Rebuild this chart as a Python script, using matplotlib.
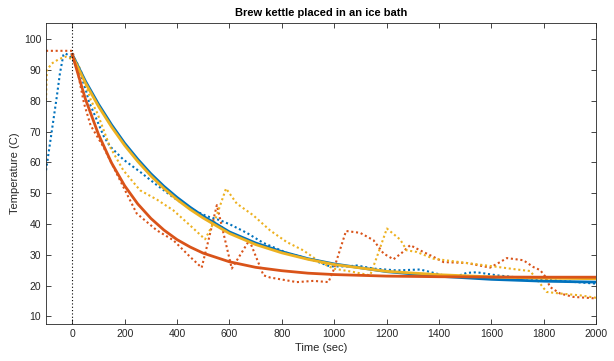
import numpy as np
import matplotlib
matplotlib.use("Agg")
import matplotlib.pyplot as plt

plt.rcParams['font.family'] = ['Liberation Sans', 'DejaVu Sans']

# smooth curves
fit_t = [0, 50, 100, 150, 200, 250, 300, 350, 400, 450, 500, 600, 700, 800,
         900, 1000, 1200, 1400, 1600, 1800, 2000]
fit_blue = [95.0, 86.4, 78.9, 72.2, 66.2, 61.0, 56.3, 52.2, 48.6, 45.4, 42.5,
            37.4, 33.8, 31.0, 28.7, 27.0, 24.5, 23.0, 22.0, 21.4, 21.1]
fit_red = [95.0, 80.6, 69.1, 59.8, 52.4, 46.5, 41.8, 38.0, 34.9, 32.5, 30.5,
           27.7, 25.9, 24.8, 24.0, 23.55, 23.05, 22.85, 22.75, 22.7, 22.7]
fit_yellow = [94.6, 85.8, 78.2, 71.5, 65.5, 60.3, 55.6, 51.5, 47.9, 44.7, 41.9,
              36.9, 33.3, 30.6, 28.5, 26.8, 24.6, 23.5, 22.8, 22.4, 22.2]

# measured probes
blue_t = [-100, -85, -72, -59, -47, -34, -27, -10, 0, 20, 39, 52, 64, 80, 100,
          120, 144, 195, 259, 323, 386, 450, 514, 564, 603, 666, 730, 819, 921,
          984, 1048, 1086, 1150, 1239, 1328, 1417, 1468, 1506, 1544, 1621, 1735,
          1862, 2000]
blue_T = [57.4, 66.1, 73.7, 81.3, 88.9, 94.8, 95.4, 94.5, 93.4, 91.0, 86.7, 83.4,
          79.6, 76.5, 72.5, 68.5, 65.2, 60.9, 56.9, 52.6, 48.6, 45.0, 42.5, 41.2,
          39.8, 37.1, 33.8, 30.6, 28.2, 26.2, 26.2, 26.5, 25.5, 24.9, 25.2, 23.3,
          23.0, 24.1, 24.3, 23.3, 22.3, 21.5, 20.6]

red_t = [-100, 0, 4, 20, 32, 45, 70, 119, 157, 195, 246, 323, 386, 450, 494, 520,
         552, 609, 676, 730, 755, 857, 921, 978, 997, 1045, 1099, 1150, 1188,
         1226, 1258, 1290, 1328, 1379, 1417, 1506, 1595, 1633, 1659, 1722, 1760,
         1786, 1805, 1824, 1862, 1913, 2000]
red_T = [96.2, 96.2, 95.0, 89.9, 84.5, 79.1, 72.0, 65.0, 58.5, 52.0, 43.4, 37.9,
         34.7, 29.3, 25.8, 34.7, 46.1, 25.5, 34.7, 23.3, 22.6, 21.1, 21.5, 21.1,
         24.9, 37.7, 37.1, 34.7, 30.4, 28.5, 30.6, 33.1, 31.4, 29.3, 27.6, 27.3,
         25.8, 27.6, 28.9, 28.2, 26.0, 25.0, 23.0, 19.5, 17.4, 16.3, 15.8]

yellow_t = [-100, -97, -78, -53, -27, 0, 13, 32, 52, 71, 96, 144, 195, 259, 323,
            386, 450, 507, 545, 587, 628, 691, 755, 819, 882, 946, 997, 1073,
            1137, 1163, 1201, 1252, 1277, 1315, 1379, 1506, 1608, 1697, 1748,
            1786, 1811, 1862, 1939, 2000]
yellow_T = [80.2, 89.9, 92.1, 93.4, 94.3, 93.5, 93.2, 90.0, 85.0, 80.2, 75.9,
            65.0, 57.4, 50.9, 47.9, 44.4, 39.5, 35.0, 41.2, 51.5, 46.6, 42.8,
            37.9, 34.1, 31.4, 27.6, 25.5, 24.4, 23.3, 29.3, 38.5, 34.9, 31.4,
            30.9, 28.7, 27.3, 26.2, 25.2, 24.7, 20.6, 17.9, 17.4, 16.8, 16.0]

c_blue = '#0072BD'
c_red = '#D95319'
c_yellow = '#EDB120'
axcol = '#262626'

fig = plt.figure(figsize=(6.14, 3.61), dpi=100)
ax = fig.add_axes([0.075, 0.1025, 0.896, 0.8335])

dots = (0, (1, 1.3))
ax.plot(blue_t, blue_T, color=c_blue, lw=1.5, ls=dots)
ax.plot(red_t, red_T, color=c_red, lw=1.5, ls=dots)
ax.plot(yellow_t, yellow_T, color=c_yellow, lw=1.5, ls=dots)
ax.plot(fit_t, fit_blue, color=c_blue, lw=2)
ax.plot(fit_t, fit_yellow, color=c_yellow, lw=2)
ax.plot(fit_t, fit_red, color=c_red, lw=2)

ax.axvline(0, color='k', lw=0.8, ls=(0, (1, 2)))

ax.set_xlim(-100, 2000)
ax.set_ylim(7.5, 105.2)
ax.set_xticks(np.arange(0, 2001, 200))
ax.set_yticks(np.arange(10, 101, 10))
ax.tick_params(direction='in', top=True, right=True, length=3.5, width=0.6,
               labelsize=7.5, colors=axcol)
for s in ax.spines.values():
    s.set_color(axcol)
    s.set_linewidth(0.6)

ax.set_xlabel('Time (sec)', fontsize=8, color=axcol, labelpad=3)
ax.set_ylabel('Temperature (C)', fontsize=8, color=axcol, labelpad=3)
ax.set_title('Brew kettle placed in an ice bath', fontsize=8, fontweight='bold',
             color='k', pad=5)

fig.savefig('out.png', dpi=100)
